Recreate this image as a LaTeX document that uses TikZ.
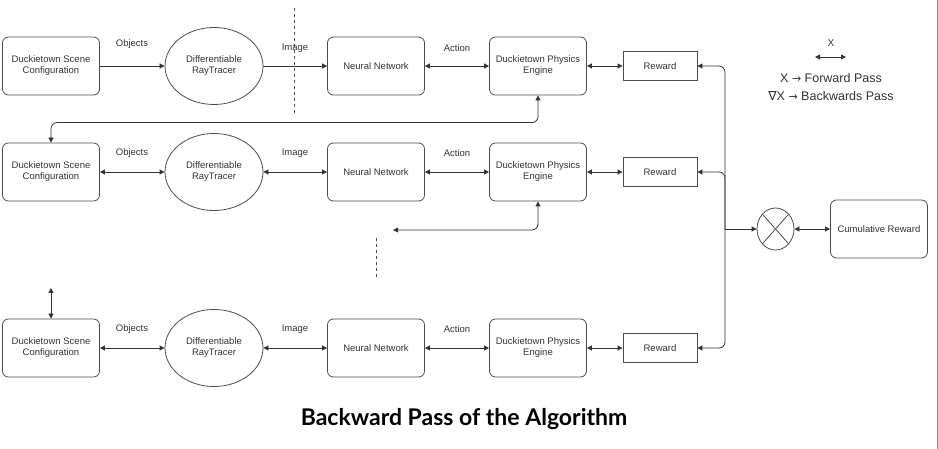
\documentclass[tikz,border=0pt]{standalone}
\usepackage{fontspec}
\setmainfont{Liberation Sans}
\newfontfamily\titlefont{Lato}
\newfontfamily\symfont{DejaVu Sans}
\usepackage{tikz}
\usetikzlibrary{shapes.geometric}
\usetikzlibrary{positioning}
\usetikzlibrary{calc}
\usetikzlibrary{arrows.meta}

\tikzset{
    tip/.tip={Triangle[length=5pt,width=5pt]},
    link/.style={draw=black!80, line width=0.8pt},
    roundbox/.style={draw=black!70, line width=0.8pt, rounded corners=6pt, minimum width=97pt, minimum height=58pt, align=center, font=\fontsize{9.5}{11}\selectfont, text=black!80},
    rewardbox/.style={draw=black!70, line width=0.8pt, minimum width=74pt, minimum height=29pt, font=\fontsize{9.5}{11}\selectfont, text=black!80},
    tracer/.style={draw=black!70, line width=0.8pt, ellipse, minimum width=98pt, minimum height=77pt, align=center, font=\fontsize{9.5}{11}\selectfont, text=black!80},
    edgelabel/.style={font=\fontsize{9.5}{10}\selectfont, text=black!80},
}

\begin{document}
\begin{tikzpicture}[x=1pt,y=-1pt]
    \useasboundingbox (0,0) rectangle (938,449);
    \draw[black!45, line width=0.8pt] (937,0) -- (937,449);

    % row 1
    \node[roundbox] (scene1) at (51,66) {Duckietown Scene\\Configuration};
    \node[tracer] (ray1) at (214,66) {Differentiable\\RayTracer};
    \node[roundbox] (nn1) at (376,66) {Neural Network};
    \node[roundbox] (phys1) at (538,66) {Duckietown Physics\\Engine};
    \node[rewardbox] (rew1) at (660,66) {Reward};
    \node[edgelabel] (obj1) at (132,44) {Objects};
    \node[edgelabel] (img1) at (295,48) {Image};
    \node[edgelabel] (act1) at (457,48) {Action};
    \draw[link,-tip] (scene1) -- (ray1);
    \draw[link,-tip] (ray1) -- (nn1);
    \draw[link,tip-tip] (nn1) -- (phys1);
    \draw[link,tip-tip] (phys1) -- (rew1);
    \draw[black!70, line width=0.7pt, dashed] (294,8) -- (294,113);

    % row 2
    \node[roundbox] (scene2) at (51,172) {Duckietown Scene\\Configuration};
    \node[tracer] (ray2) at (214,172) {Differentiable\\RayTracer};
    \node[roundbox] (nn2) at (376,172) {Neural Network};
    \node[roundbox] (phys2) at (538,172) {Duckietown Physics\\Engine};
    \node[rewardbox] (rew2) at (660,172) {Reward};
    \node[edgelabel] (obj2) at (132,153) {Objects};
    \node[edgelabel] (img2) at (295,153) {Image};
    \node[edgelabel] (act2) at (457,153) {Action};
    \draw[link,tip-tip] (scene2) -- (ray2);
    \draw[link,tip-tip] (ray2) -- (nn2);
    \draw[link,tip-tip] (nn2) -- (phys2);
    \draw[link,tip-tip] (phys2) -- (rew2);
    \draw[link,tip-tip,rounded corners=6pt] (scene2.north) -- ++(0,-20) -| (phys1.south);
    \coordinate (loose2) at (393,230);
    \draw[link,tip-tip,rounded corners=6pt] (loose2) -| (phys2.south);
    \draw[black!70, line width=0.7pt, dashed] (376,238) -- (376,278);

    % row 3
    \node[roundbox] (scene3) at (51,348) {Duckietown Scene\\Configuration};
    \node[tracer] (ray3) at (214,348) {Differentiable\\RayTracer};
    \node[roundbox] (nn3) at (376,348) {Neural Network};
    \node[roundbox] (phys3) at (538,348) {Duckietown Physics\\Engine};
    \node[rewardbox] (rew3) at (660,348) {Reward};
    \node[edgelabel] (obj3) at (132,329) {Objects};
    \node[edgelabel] (img3) at (295,329) {Image};
    \node[edgelabel] (act3) at (457,329) {Action};
    \draw[link,tip-tip] (scene3) -- (ray3);
    \draw[link,tip-tip] (ray3) -- (nn3);
    \draw[link,tip-tip] (nn3) -- (phys3);
    \draw[link,tip-tip] (phys3) -- (rew3);
    \coordinate (loose3) at (51,288);
    \draw[link,tip-tip] (loose3) -- (scene3.north);

    % rewards combined
    \node[draw=black!70, line width=0.8pt, ellipse, minimum width=37pt, minimum height=42pt, inner sep=0pt] (mult) at (775.5,229) {};
    \draw[black!70, line width=0.8pt] (mult.north west) -- (mult.south east);
    \draw[black!70, line width=0.8pt] (mult.north east) -- (mult.south west);
    \node[roundbox, minimum width=97pt] (cum) at (879,229) {Cumulative Reward};
    \coordinate (junc) at (725,229);
    \draw[link,-tip,rounded corners=6pt] (junc) |- (rew1.east);
    \draw[link,-tip,rounded corners=6pt] (junc) -- (725,172) -- (rew2.east);
    \draw[link,-tip,rounded corners=6pt] (junc) |- (rew3.east);
    \draw[link,-tip] (junc) -- (mult.west);
    \draw[link,tip-tip] (mult) -- (cum);

    % legend
    \node[font=\fontsize{10}{10}\selectfont, text=black!80] (legx) at (831,43) {X};
    \coordinate (legl) at (815,57);
    \coordinate (legr) at (846,57);
    \draw[link,tip-tip] (legl) -- (legr);
    \node[align=center, font=\fontsize{12.5}{18}\selectfont, text=black!80] (legtext) at (831,87) {X {\symfont\fontsize{11}{18}\selectfont →} Forward Pass\\{\symfont ∇}X {\symfont\fontsize{11}{18}\selectfont →} Backwards Pass};

    % caption
    \node[font=\titlefont\bfseries\fontsize{23}{26}\selectfont] (caption) at (464,419) {Backward Pass of the Algorithm};
\end{tikzpicture}
\end{document}
